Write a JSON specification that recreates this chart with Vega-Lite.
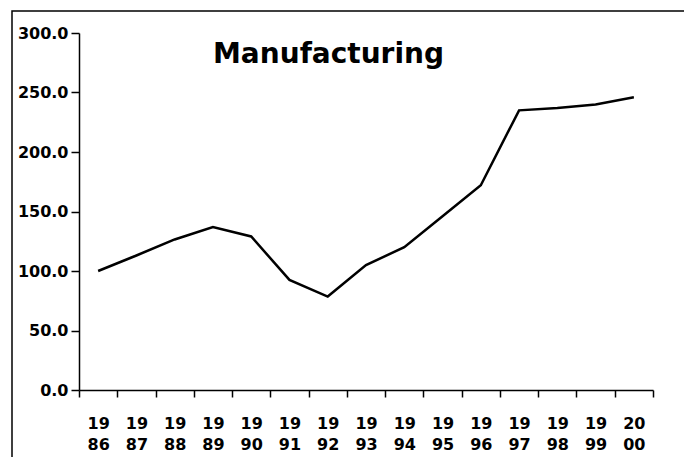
{
  "$schema": "https://vega.github.io/schema/vega-lite/v6.json",
  "autosize": {"type": "none"},
  "padding": {"left": 12, "top": 11, "right": 0, "bottom": 0},
  "width": 673,
  "height": 447,
  "background": "white",
  "title": {
    "text": "Manufacturing",
    "anchor": "start",
    "frame": "group",
    "dx": 201,
    "dy": 80,
    "offset": 0,
    "baseline": "alphabetic",
    "font": "DejaVu Sans",
    "fontSize": 28,
    "fontWeight": "bold",
    "color": "black"
  },
  "config": {
    "view": {"stroke": "black", "strokeWidth": 1.5},
    "axis": {
      "grid": false,
      "domainColor": "black",
      "domainWidth": 1.5,
      "tickColor": "black",
      "tickWidth": 1.5,
      "labelColor": "black",
      "labelFont": "DejaVu Sans",
      "labelFontSize": 16,
      "labelFontWeight": "bold",
      "title": null
    }
  },
  "data": {
    "values": [
      {"year": "1986", "value": 100},
      {"year": "1987", "value": 113},
      {"year": "1988", "value": 126.5},
      {"year": "1989", "value": 137},
      {"year": "1990", "value": 129},
      {"year": "1991", "value": 92.5},
      {"year": "1992", "value": 78.5},
      {"year": "1993", "value": 105},
      {"year": "1994", "value": 120},
      {"year": "1995", "value": 146},
      {"year": "1996", "value": 172},
      {"year": "1997", "value": 235},
      {"year": "1998", "value": 237},
      {"year": "1999", "value": 240},
      {"year": "2000", "value": 246}
    ]
  },
  "mark": {"type": "line", "color": "black", "strokeWidth": 2.5},
  "encoding": {
    "x": {
      "field": "year",
      "type": "ordinal",
      "scale": {"type": "band", "range": [67, 641], "paddingInner": 0, "paddingOuter": 0},
      "axis": {
        "orient": "bottom",
        "offset": -68,
        "labelAngle": 0,
        "tickBand": "extent",
        "tickSize": 7,
        "labelPadding": 18,
        "labelLineHeight": 21,
        "labelExpr": "[slice(datum.label, 0, 2), slice(datum.label, 2)]"
      }
    },
    "y": {
      "field": "value",
      "type": "quantitative",
      "scale": {"domain": [0, 300], "range": [379, 22], "nice": false, "zero": false},
      "axis": {
        "orient": "left",
        "offset": -67,
        "values": [0, 50, 100, 150, 200, 250, 300],
        "format": ".1f",
        "tickSize": 8,
        "labelPadding": 3
      }
    }
  }
}
